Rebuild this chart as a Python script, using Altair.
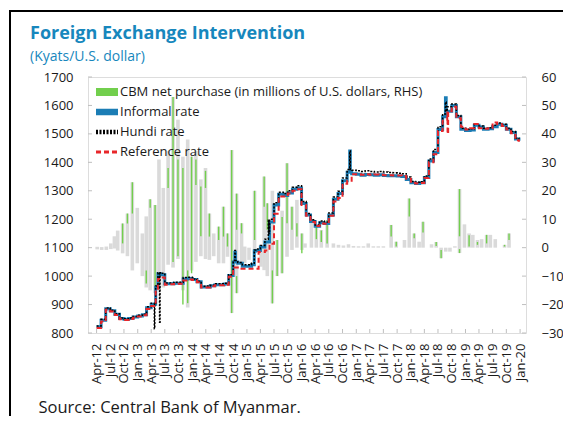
import altair as alt
import pandas as pd

FONT = "Open Sans"
TXT = "#1a1a1a"
TITLE_BLUE = "#1787bd"
FRAME_GRAY = "#bfbfbf"
GREEN = "#72cf4d"
BAR_GRAY = "#dadada"
BLUE = "#1b7db5"
RED = "#e8262a"

CBM = "CBM net purchase (in millions of U.S. dollars, RHS)"
INF = "Informal rate"
HUN = "Hundi rate"
REF = "Reference rate"
SERIES = [CBM, INF, HUN, REF]
SOURCE = "Source: Central Bank of Myanmar."

# ---------------- exchange rates (kyats per USD), month starts Apr-12 .. Dec-19 + last obs
month_starts = [d.strftime("%Y-%m-%d") for d in pd.date_range("2012-04-01", periods=93, freq="MS")]
rate_dates = month_starts + ["2019-12-24"]

informal = [822, 845, 885, 878, 866, 851, 848, 851, 856, 860, 864, 889, 901,
            961, 1005, 973, 973, 975, 975, 990, 992, 988, 980, 962, 962, 966, 970, 970, 972, 1002,
            1050, 1045, 1035, 1035, 1040, 1090, 1102, 1120, 1190, 1250, 1288, 1283, 1292, 1305, 1310,
            1255, 1215, 1192, 1175, 1188, 1185, 1215, 1270, 1290, 1335, 1365, 1360,
            1358, 1355, 1357, 1356, 1355, 1356, 1354, 1353, 1353, 1352, 1350, 1340,
            1328, 1326, 1328, 1347, 1405, 1435, 1515, 1560, 1580, 1600, 1560, 1516,
            1512, 1514, 1530, 1524, 1516, 1518, 1525, 1534, 1530, 1516, 1505, 1482,
            1476]
hundi = [825, 848, 888, 880, 868, 853, 850, 853, 858, 862, 866, 892, 905,
         965, 1010, 976, 976, 978, 978, 995, 996, 990, 982, 964, 965, 968, 973, 973, 975, 1005,
         1055, 1048, 1040, 1040, 1045, 1095, 1108, 1130, 1200, 1258, 1295, 1290, 1300, 1312, 1318,
         1262, 1220, 1198, 1180, 1194, 1190, 1222, 1278, 1298, 1345, 1375, 1372,
         1370, 1368, 1370, 1368, 1366, 1368, 1366, 1364, 1363, 1362, 1360, 1348,
         1333, 1330, 1332, 1352, 1412, 1445, 1525, 1570, 1595, 1605, 1565, 1520,
         1516, 1518, 1534, 1528, 1520, 1522, 1530, 1538, 1534, 1520, 1508, 1485,
         1480]
reference = [818, 840, 882, 876, 863, 848, 846, 849, 854, 858, 862, 884, 895,
             950, 995, 970, 971, 972, 973, 985, 988, 986, 978, 960, 960, 964, 968, 968, 970, 998,
             1030, 1026, 1026, 1026, 1026, 1026, 1085, 1090, 1114, 1219, 1280, 1280, 1290, 1300, 1305,
             1250, 1212, 1190, 1176, 1185, 1184, 1212, 1262, 1275, 1325, 1335, 1358,
             1358, 1356, 1358, 1356, 1357, 1356, 1355, 1355, 1354, 1354, 1352, 1342,
             1328, 1326, 1327, 1345, 1400, 1428, 1510, 1546, 1575, 1595, 1555, 1525,
             1515, 1520, 1535, 1520, 1518, 1520, 1540, 1535, 1528, 1515, 1502, 1478,
             1472]

# intra-month moves (spikes / dips)
inf_extra_dates = ["2013-05-16", "2014-10-12", "2014-10-16", "2015-02-19",
                   "2016-11-18", "2016-11-22", "2018-08-20", "2018-08-25"]
inf_extra_vals = [1008, 1084, 1050, 1088, 1440, 1365, 1627, 1570]
hun_extra_dates = ["2013-04-22", "2013-04-25", "2013-05-16", "2013-05-27", "2013-05-30",
                   "2014-10-12", "2014-10-16", "2015-02-19", "2015-05-24", "2015-05-28",
                   "2016-11-18", "2016-11-22", "2018-08-20", "2018-08-25"]
hun_extra_vals = [815, 905, 1012, 838, 1012, 1090, 1055, 1092, 1196, 1150, 1440, 1375, 1612, 1580]
ref_extra_dates = ["2013-05-16", "2015-03-20", "2018-09-03", "2018-09-07"]
ref_extra_vals = [990, 1085, 1500, 1580]

# ---------------- CBM net purchase (RHS): grey range bars and green segments
gray_dates = ["2012-04-05", "2012-05-05", "2012-06-05", "2012-07-05", "2012-07-29", "2012-08-20",
              "2012-09-22", "2012-10-24", "2012-11-26", "2012-12-29",
              "2013-02-01", "2013-02-27", "2013-03-25", "2013-04-27", "2013-05-23", "2013-06-21",
              "2013-07-23", "2013-08-25", "2013-09-27", "2013-10-30", "2013-12-01", "2013-12-27",
              "2014-01-25", "2014-02-27", "2014-03-30", "2014-04-25", "2014-05-24", "2014-06-26",
              "2014-07-28", "2014-08-24", "2014-09-21", "2014-10-24", "2014-11-26", "2014-12-17",
              "2015-01-15", "2015-02-21", "2015-04-05", "2015-04-26", "2015-05-17", "2015-06-20",
              "2015-07-22", "2015-08-24", "2015-09-26", "2015-10-29", "2015-12-01",
              "2016-01-03", "2016-01-24", "2016-03-07", "2016-04-09", "2016-05-12", "2016-06-20",
              "2016-08-01", "2016-09-04", "2016-10-07", "2016-11-10", "2016-12-13",
              "2017-01-16", "2017-02-18", "2017-03-22", "2017-04-25", "2017-05-28", "2017-07-01",
              "2017-08-22", "2017-09-25", "2017-11-19", "2017-12-21",
              "2018-01-23", "2018-02-25", "2018-03-23", "2018-05-19", "2018-06-19", "2018-07-22",
              "2018-08-22", "2018-09-19", "2018-10-22", "2018-11-22", "2018-12-25",
              "2019-01-25", "2019-02-19", "2019-03-22", "2019-04-19", "2019-05-22", "2019-06-16",
              "2019-07-19", "2019-09-19", "2019-10-19"]
gray_hi = [0.3, 0.2, 0.4, 1.5, 4.0, 6.0,
           8.5, 12.0, 23.0, 14.0,
           5.0, 11.0, 17.0, 15.0, 31.0, 21.0,
           34.0, 53.0, 45.0, 32.0, 38.0, 32.0,
           34.0, 24.0, 28.0, 12.0, 5.0, 7.4,
           14.4, 5.0, 34.3, 19.0, 8.6, 0.4,
           0.0, 20.0, 0.0, 25.0, 15.6, 20.0,
           2.7, 13.0, 29.7, 14.4, 16.8,
           5.0, 1.5, 10.0, 7.4, 6.2, 9.7,
           1.5, 1.0, 0.8, 1.2, 0.6,
           0.5, 0.5, 1.5, 0.5, 0.5, 0.5,
           8.0, 2.1, 2.7, 17.3,
           5.0, 2.1, 9.1, 1.2, 2.0, 0.0,
           0.0, 0.0, 0.5, 20.6, 8.2,
           5.0, 4.5, 2.7, 3.0, 4.5, 4.5,
           3.0, 1.0, 5.0]
gray_lo = [-0.6, -0.8, -0.8, -0.5, -0.3, -1.0,
           -2.0, -3.0, -8.0, -5.5,
           -10.0, -14.0, -15.0, -16.0, -15.0, -14.0,
           -6.0, -7.0, -4.0, -15.0, -21.0, -8.0,
           -5.0, -3.0, -4.0, -4.3, -3.0, -5.5,
           -5.5, -3.2, -23.0, -16.0, -5.5, -5.5,
           -4.3, -2.0, -6.7, -7.9, -10.0, -19.6,
           -10.0, -9.0, -3.2, -0.8, 0.0,
           -0.8, 0.0, 0.0, 0.0, 0.0, 0.0,
           0.0, 0.0, 0.0, 0.0, 0.0,
           0.0, 0.0, 0.0, 0.0, 0.0, 0.0,
           0.0, 0.0, 0.0, 0.0,
           0.0, 0.0, 0.0, 0.0, 0.0, -3.7,
           -1.4, -1.4, 0.0, -1.9, 0.0,
           0.0, 0.0, 0.0, 0.0, 0.0, 0.0,
           0.0, 0.0, 0.0]

green_dates = ["2012-09-22", "2012-10-24", "2012-11-26", "2013-02-27", "2013-03-25", "2013-04-27",
               "2013-07-23", "2013-08-25", "2013-09-27", "2013-10-30", "2013-12-01", "2013-12-27",
               "2014-01-25", "2014-02-27", "2014-03-30", "2014-04-25", "2014-06-26", "2014-07-28",
               "2014-08-24", "2014-09-21", "2014-10-24", "2014-10-24", "2014-11-26",
               "2015-02-21", "2015-04-26", "2015-05-17", "2015-06-20", "2015-07-22", "2015-08-24",
               "2015-09-26", "2015-10-29", "2015-12-01",
               "2016-01-03", "2016-04-09", "2016-05-12", "2016-06-20",
               "2017-08-22", "2017-09-25", "2017-12-21",
               "2018-01-23", "2018-03-23", "2018-06-19", "2018-07-22", "2018-11-22", "2018-11-22",
               "2019-01-25", "2019-03-22", "2019-05-22", "2019-09-19", "2019-10-19"]
green_hi = [8.5, 12, 23, -8, 17, 15,
            28, 53, 31, 28, -8, 32,
            31, 21.5, 27, 12, 7.4, 14.4,
            5, 34.3, 19, -10, 8.6,
            20, 25, 15.6, -8, 2.7, 10.8,
            29.7, 14.4, 8.6,
            5, 7.4, 6, 9.7,
            8, 2.1, 17.3,
            5, 9.1, 2, -0.8, 20.6, -0.5,
            4.4, 2, 4.5, 1, 5]
green_lo = [1.5, 8.5, 12, -12.6, 14, -15,
            21, -5, -3, -20, -19.5, -9,
            22, 4, 21, 3.9, 2.7, 3.9,
            0.4, -23, 6.3, -16, 5,
            2.7, 14.4, 6.3, -19.6, -10, -9,
            8.6, 6.3, 3.9,
            -2, 3, 2, 1.5,
            3.9, 0.4, 11,
            3.3, 5.3, 0.6, -3.7, 4, -1.9,
            0.4, 1, 1.5, 0.4, 2.7]

left_ticks = list(range(800, 1701, 100))
right_ticks = list(range(-30, 61, 10))
quarter_ticks = [d.strftime("%Y-%m-%d") for d in pd.date_range("2012-04-01", "2020-01-01", freq="QS-JAN")]


def ms(s):
    return int(pd.Timestamp(s, tz="UTC").value // 10**6)


def line_df(vals, extra_d, extra_v, name):
    d = pd.DataFrame({"date": rate_dates + extra_d, "value": vals + extra_v})
    d = d.sort_values("date").reset_index(drop=True)
    d["series"] = name
    return d


inf_df = line_df(informal, inf_extra_dates, inf_extra_vals, INF)
hun_df = line_df(hundi, hun_extra_dates, hun_extra_vals, HUN)
ref_df = line_df(reference, ref_extra_dates, ref_extra_vals, REF)
gray_df = pd.DataFrame({"date": gray_dates, "hi": gray_hi, "lo": gray_lo})
green_df = pd.DataFrame({"date": green_dates, "hi": green_hi, "lo": green_lo, "series": CBM})
lt_df = pd.DataFrame({"value": left_ticks})
rt_df = pd.DataFrame({"value": right_ticks})
qt_df = pd.DataFrame({"date": quarter_ticks})
leg_df = pd.DataFrame({"series": SERIES})

W, H = 438, 256

x_scale = alt.Scale(type="utc", domain=[ms("2012-03-08"), ms("2020-01-07")])
x_axis = alt.Axis(
    values=[ms(d) for d in quarter_ticks], format="%b-%y", labelAngle=270,
    labelAlign="right", labelBaseline="middle", labelFont=FONT, labelFontSize=13,
    labelColor=TXT, labelPadding=10, labelOverlap=False, labelFlush=False, labelBound=False,
    ticks=False, domain=False, grid=False,
    title=SOURCE, titleX=-50, titleY=79, titleAlign="left", titleBaseline="alphabetic",
    titleFont=FONT, titleFontSize=16.5, titleFontWeight="normal", titleColor=TXT,
)


def X(field="date:T"):
    return alt.X(field, scale=x_scale, axis=x_axis)


left_axis = alt.Axis(orient="left", values=left_ticks, format="d", labelFont=FONT, labelFontSize=13,
                     labelColor=TXT, ticks=False, labelPadding=15,
                     domain=False, grid=False, title=None)
right_axis = alt.Axis(orient="right", values=right_ticks, format="d", labelFont=FONT, labelFontSize=13,
                      labelColor=TXT, ticks=False, labelPadding=15,
                      domain=False, grid=False, title=None)
left_scale = alt.Scale(domain=[800, 1700], nice=False, zero=False)
right_scale = alt.Scale(domain=[-30, 60], nice=False, zero=False)
color_scale = alt.Scale(domain=SERIES, range=[GREEN, BLUE, "#000000", RED])


def C():
    return alt.Color("series:N", scale=color_scale, legend=None)


# ---- bars (right axis) + inward ticks of right axis
gray_bars = alt.Chart(gray_df).mark_bar(width=3.6, color=BAR_GRAY).encode(
    x=X(), y=alt.Y("hi:Q", scale=right_scale, axis=right_axis), y2="lo:Q")
green_bars = alt.Chart(green_df).mark_bar(width=1.4).encode(
    x=X(), y=alt.Y("hi:Q", scale=right_scale, axis=right_axis), y2="lo:Q", color=C())
rticks = alt.Chart(rt_df).mark_rule(color=FRAME_GRAY).encode(
    y=alt.Y("value:Q", scale=right_scale, axis=right_axis), x=alt.value(W - 4), x2=alt.value(W))
bars = alt.layer(gray_bars, green_bars, rticks)

# ---- rate lines (left axis) + inward ticks of left and bottom axes
inf_line = alt.Chart(inf_df).mark_line(interpolate="step-after", strokeWidth=3).encode(
    x=X(), y=alt.Y("value:Q", scale=left_scale, axis=left_axis), color=C())
hun_line = alt.Chart(hun_df).mark_line(interpolate="step-after", strokeWidth=1.5, strokeDash=[2, 1.5]).encode(
    x=X(), y=alt.Y("value:Q", scale=left_scale, axis=left_axis), color=C())
ref_line = alt.Chart(ref_df).mark_line(interpolate="step-after", strokeWidth=2, strokeDash=[5, 3]).encode(
    x=X(), y=alt.Y("value:Q", scale=left_scale, axis=left_axis), color=C())
lticks = alt.Chart(lt_df).mark_rule(color=FRAME_GRAY).encode(
    y=alt.Y("value:Q", scale=left_scale, axis=left_axis), x=alt.value(0), x2=alt.value(4))
bticks = alt.Chart(qt_df).mark_rule(color=FRAME_GRAY).encode(
    x=X(), y=alt.value(H - 4), y2=alt.value(H))
lines = alt.layer(lticks, bticks, inf_line, hun_line, ref_line)

# ---- legend built from the series list
leg_y = alt.Y("series:N", scale=alt.Scale(type="point", domain=SERIES, range=[15, 75], padding=0), axis=None)
leg_sym = alt.Chart(leg_df).mark_rule().encode(
    y=leg_y, x=alt.value(8), x2=alt.value(30), color=C(),
    strokeWidth=alt.StrokeWidth("series:N", scale=alt.Scale(domain=SERIES, range=[8, 3, 1.5, 2]), legend=None),
    strokeDash=alt.StrokeDash("series:N", scale=alt.Scale(domain=SERIES, range=[[1, 0], [1, 0], [2, 1.5], [5, 3]]), legend=None),
)
leg_txt = alt.Chart(leg_df).mark_text(align="left", baseline="middle", font=FONT, fontSize=13, color=TXT).encode(
    y=leg_y, x=alt.value(32), text="series:N")
leg = alt.layer(leg_sym, leg_txt)

one = pd.DataFrame({"k": [0]})
frame_left = alt.Chart(one).mark_rule(color="black", strokeWidth=2).encode(
    x=alt.value(-78), y=alt.value(-66), y2=alt.value(H + 90))
frame_top = alt.Chart(one).mark_rule(color="black", strokeWidth=2).encode(
    x=alt.value(-79), x2=alt.value(W + 60), y=alt.value(-66))

chart = alt.layer(bars, lines, leg, frame_left, frame_top).resolve_scale(y="independent").properties(
    width=W, height=H,
    autosize=alt.AutoSizeParams(type="none"),
    padding={"left": 80, "top": 69, "right": 37, "bottom": 83},
    title=alt.TitleParams(
        "Foreign Exchange Intervention", subtitle="(Kyats/U.S. dollar)",
        anchor="start", frame="group", dx=-58, offset=-54,
        font=FONT, fontSize=18, fontWeight="bold", color=TITLE_BLUE,
        subtitleFont=FONT, subtitleFontSize=14, subtitleColor=TITLE_BLUE, subtitlePadding=7),
).configure_view(stroke=FRAME_GRAY, strokeWidth=1).configure(background="white")

chart.save("out.html", embed_options={"renderer": "svg", "actions": False})
